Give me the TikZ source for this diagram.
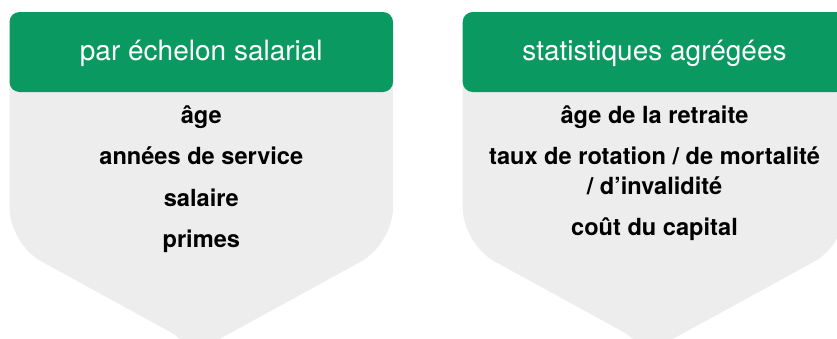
\documentclass[tikz,border=0pt]{standalone}
\usepackage{fontspec}
\setmainfont{TeX Gyre Heros}
\definecolor{hdrgreen}{HTML}{0A9960}
\definecolor{bodygrey}{HTML}{EDEDED}
\begin{document}
\begin{tikzpicture}[x=1pt,y=-1pt,
  hdrbox/.style={fill=hdrgreen,rounded corners=10pt},
  hdrtext/.style={anchor=base,text=white,font=\fontsize{28}{32}\selectfont,inner sep=0pt},
  itemtext/.style={anchor=base,text=black,font=\bfseries\fontsize{23.6}{27}\selectfont,inner sep=0pt,align=center},
  bodyfill/.style={fill=bodygrey}]
\useasboundingbox (0,0) rectangle (837,338);
\clip (0,0) rectangle (837,338);
% left panel
\fill[bodyfill] (9.5,80) -- (9.5,200) [rounded corners=36pt] -- (9.5,244) -- (201.3,349) [sharp corners] -- (201.3,360) -- (201.3,349) [rounded corners=36pt] -- (393,244) [sharp corners] -- (393,200) -- (393,80) -- cycle;
\fill[hdrbox] (9.5,12) rectangle (393,92);
\node[hdrtext] (h1) at (201.3,60) {par échelon salarial};
\node[itemtext] (a1) at (201.3,123) {âge};
\node[itemtext] (a2) at (201.3,164.5) {années de service};
\node[itemtext] (a3) at (201.3,206) {salaire};
\node[itemtext] (a4) at (201.3,247) {primes};
% right panel
\fill[bodyfill] (462.7,80) -- (462.7,200) [rounded corners=36pt] -- (462.7,244) -- (654.5,349) [sharp corners] -- (654.5,360) -- (654.5,349) [rounded corners=36pt] -- (846.3,244) [sharp corners] -- (846.3,200) -- (846.3,80) -- cycle;
\fill[hdrbox] (462.7,12) rectangle (846.3,92);
\node[hdrtext] (h2) at (654.5,60) {statistiques agrégées};
\node[itemtext] (b1) at (654.5,123) {âge de la retraite};
\node[itemtext] (b2) at (654.5,164.5) {taux de rotation / de mortalité};
\node[itemtext] (b2b) at (654.5,194.5) {/ d’invalidité};
\node[itemtext] (b3) at (654.5,235.5) {coût du capital};
\end{tikzpicture}
\end{document}
